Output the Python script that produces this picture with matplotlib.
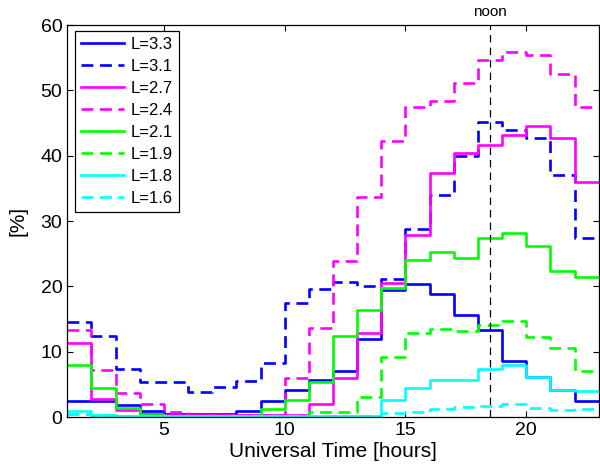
import numpy as np
import matplotlib
matplotlib.use("Agg")
import matplotlib.pyplot as plt

plt.rcParams["font.family"] = ["Liberation Sans", "DejaVu Sans"]

# bin edges in UT hours, one value per hourly bin
hours = np.arange(1, 24)

l33 = [2.5, 2.5, 1.9, 0.9, 0.4, 0.4, 0.4, 0.9, 2.5, 4.2, 5.7, 7.0, 12.0, 19.4,
       20.4, 18.8, 15.6, 13.3, 8.5, 6.2, 4.1, 2.5]
l31 = [14.6, 12.4, 7.4, 5.3, 5.3, 3.9, 4.6, 5.5, 8.2, 17.5, 19.6, 20.7, 20.1,
       21.2, 28.8, 34.0, 39.9, 45.1, 44.0, 42.7, 37.0, 27.4]
l27 = [11.3, 2.7, 1.1, 0.4, 0.3, 0.3, 0.3, 0.3, 0.3, 0.3, 2.0, 5.9, 12.8, 20.5,
       27.9, 37.3, 40.4, 41.7, 43.2, 44.5, 42.7, 35.9]
l24 = [13.3, 7.2, 3.6, 2.0, 0.8, 0.3, 0.3, 0.3, 0.3, 5.9, 13.6, 23.9, 33.7, 42.3,
       47.4, 48.4, 51.1, 54.6, 55.8, 55.4, 52.5, 47.5]
l21 = [7.9, 4.4, 1.4, 0.3, 0.2, 0.2, 0.2, 0.2, 1.2, 2.6, 5.3, 12.4, 16.4, 19.7,
       24.1, 25.2, 24.4, 27.4, 28.1, 26.2, 22.3, 21.5]
l19 = [0.5, 0.3, 0.2, 0.2, 0.1, 0.1, 0.1, 0.1, 0.1, 0.2, 0.7, 0.7, 3.1, 9.2,
       12.9, 13.4, 13.1, 14.1, 14.7, 12.3, 10.5, 7.0]
l18 = [0.9, 0.3, 0.2, 0.2, 0.1, 0.1, 0.1, 0.1, 0.2, 0.2, 0.2, 0.2, 0.2, 2.6,
       4.4, 5.7, 5.7, 7.4, 8.0, 6.2, 4.1, 4.0]
l16 = [0.4, 0.2, 0.1, 0.1, 0.1, 0.1, 0.1, 0.1, 0.1, 0.1, 0.1, 0.2, 0.2, 0.6,
       0.8, 1.2, 1.5, 1.7, 2.0, 1.4, 1.1, 1.2]

noon_ut = 18.5

series = [
    ("L=3.3", l33, "#0000ff", "-"),
    ("L=3.1", l31, "#0000ff", (0, (4.5, 2.5))),
    ("L=2.7", l27, "#ff00ff", "-"),
    ("L=2.4", l24, "#ff00ff", (0, (4.5, 2.5))),
    ("L=2.1", l21, "#00ff00", "-"),
    ("L=1.9", l19, "#00ff00", (0, (4.5, 2.5))),
    ("L=1.8", l18, "#00ffff", "-"),
    ("L=1.6", l16, "#00ffff", (0, (4.5, 2.5))),
]

fig = plt.figure(figsize=(6, 4.72), dpi=100)
ax = fig.add_axes([0.112, 0.1165, 0.886, 0.8305])

for label, vals, color, ls in series:
    ax.step(hours, np.append(vals, vals[-1]), where="post", color=color,
            linestyle=ls, linewidth=1.9, label=label)

ax.axvline(noon_ut, color="black", linestyle=(0, (6, 4)), linewidth=0.9)
ax.text(noon_ut, 60.9, "noon", ha="center", va="bottom", fontsize=11)

ax.set_xlim(1, 23)
ax.set_ylim(0, 60)
ax.set_xticks([5, 10, 15, 20])
ax.set_yticks(np.arange(0, 61, 10))
ax.tick_params(direction="in", top=True, right=True, labelsize=14, length=4,
               width=0.8)
for sp in ax.spines.values():
    sp.set_linewidth(0.9)

ax.set_xlabel("Universal Time [hours]", fontsize=15, labelpad=2)
ax.set_ylabel("[%]", fontsize=15, labelpad=9)

leg = ax.legend(loc="upper left", bbox_to_anchor=(0.015, 0.985), fontsize=12,
                fancybox=False, framealpha=1, edgecolor="black",
                handlelength=2.6, handletextpad=0.4, labelspacing=0.42,
                borderpad=0.35, borderaxespad=0)
leg.get_frame().set_linewidth(0.9)

fig.savefig("out.png", dpi=100)
